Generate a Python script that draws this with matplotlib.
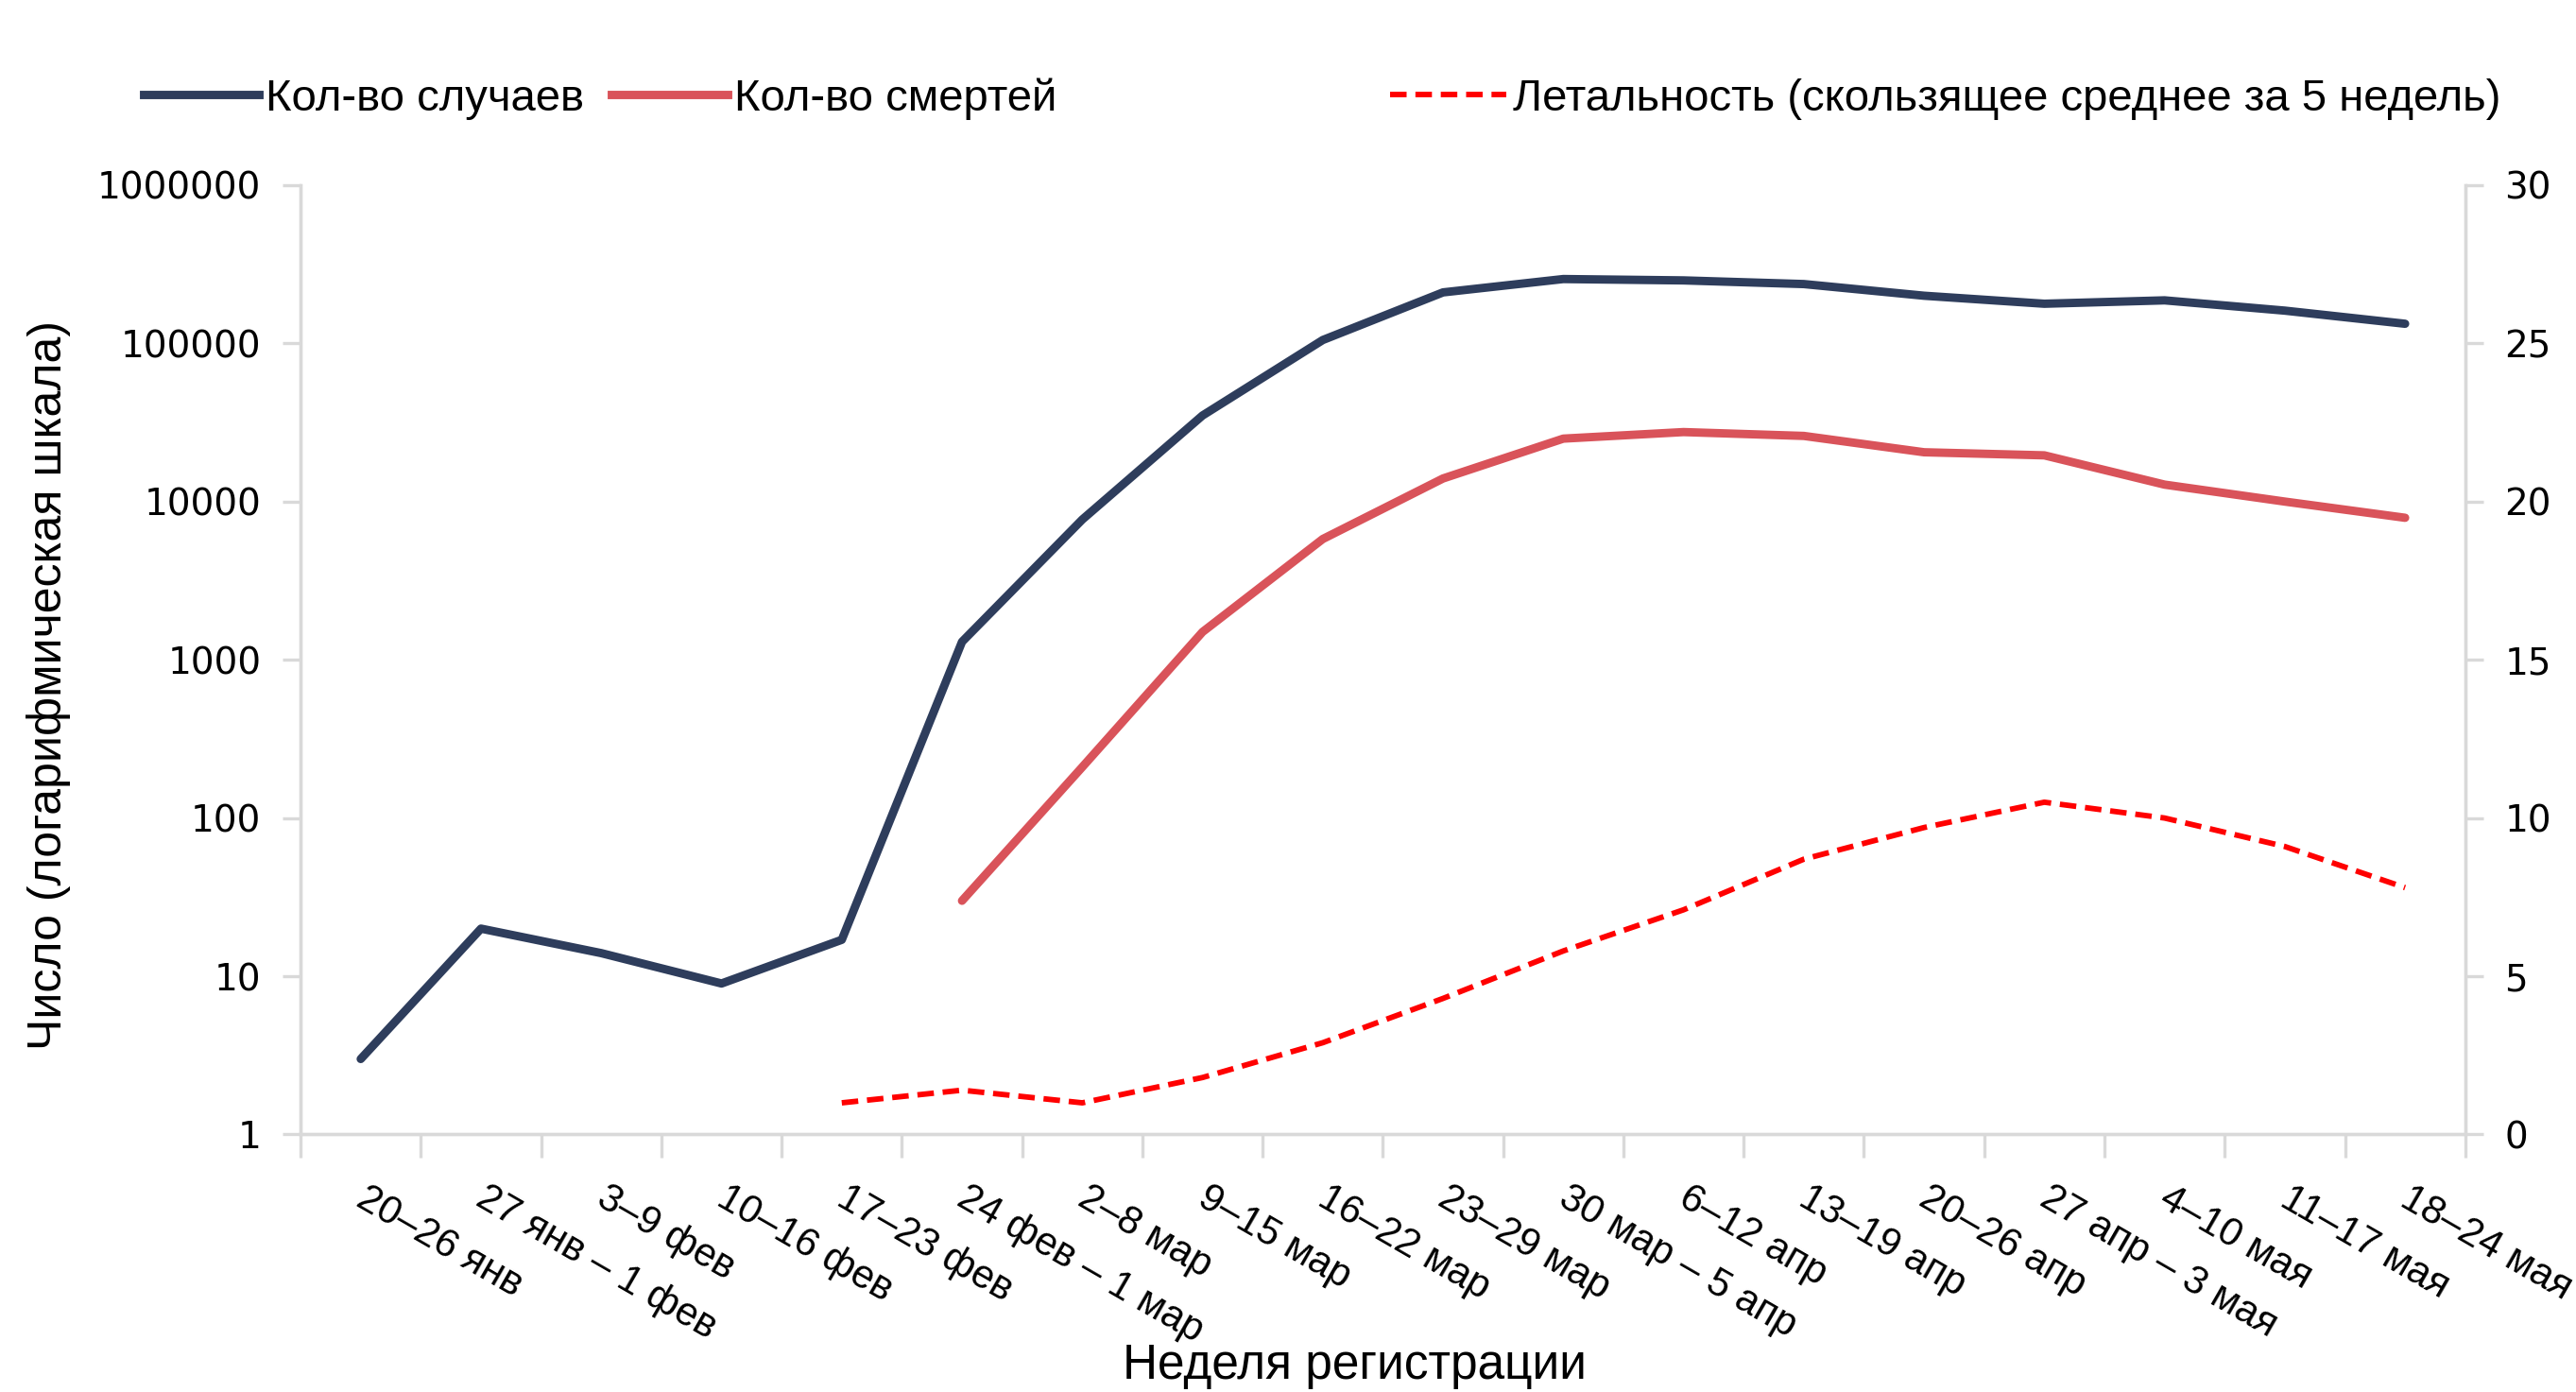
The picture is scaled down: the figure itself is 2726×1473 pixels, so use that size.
import matplotlib
matplotlib.use("Agg")
import matplotlib.pyplot as plt
from matplotlib.lines import Line2D
import numpy as np

weeks = ["20–26 янв", "27 янв – 1 фев", "3–9 фев", "10–16 фев", "17–23 фев",
         "24 фев – 1 мар", "2–8 мар", "9–15 мар", "16–22 мар", "23–29 мар",
         "30 мар – 5 апр", "6–12 апр", "13–19 апр", "20–26 апр", "27 апр – 3 мая",
         "4–10 мая", "11–17 мая", "18–24 мая"]
cases = [3, 20, 14, 9, 17, 1300, 7700, 35000, 105000, 210000, 255000, 250000,
         237000, 200000, 178000, 187000, 161000, 133000]
deaths = [np.nan] * 5 + [30, 210, 1500, 5800, 14000, 25000, 27500, 26000,
                         20500, 19600, 12800, 10000, 7900]
lethality = [np.nan] * 4 + [1.0, 1.4, 1.0, 1.8, 2.9, 4.3, 5.8, 7.1, 8.7, 9.7,
                            10.5, 10.0, 9.1, 7.8]
yticks_left = [1, 10, 100, 1000, 10000, 100000, 1000000]
yticks_right = [0, 5, 10, 15, 20, 25, 30]

narrow = ["Liberation Sans", "DejaVu Sans"]
c_cases = "#2E3D5C"
c_deaths = "#D9535A"
c_leth = "#FF0000"
gray = "#D9D9D9"

fig = plt.figure(figsize=(13.63, 7.365), dpi=200)
ax = fig.add_axes([0.1167, 0.185, 0.8403, 0.682])
ax2 = ax.twinx()

x = np.arange(len(weeks))
ax.plot(x, cases, color=c_cases, lw=3.2, solid_capstyle="round", solid_joinstyle="round")
ax.plot(x, deaths, color=c_deaths, lw=3.2, solid_capstyle="round", solid_joinstyle="round")
ax2.plot(x, lethality, color=c_leth, lw=2.1, ls=(0, (3, 1.6)))

ax.set_yscale("log")
ax.set_ylim(1, 1000000)
ax.set_yticks(yticks_left)
ax.set_yticklabels([str(v) for v in yticks_left])
ax.yaxis.set_minor_locator(matplotlib.ticker.NullLocator())
ax2.set_ylim(0, 30)
ax2.set_yticks(yticks_right)
ax.set_xlim(-0.5, len(weeks) - 0.5)

# category ticks between categories
ax.set_xticks(np.arange(-0.5, len(weeks), 1.0))
ax.set_xticklabels([])
ax.tick_params(axis="x", length=9, width=1.2, color=gray)
for i, lab in enumerate(weeks):
    ax.annotate(lab, xy=(i, 0), xycoords=("data", "axes fraction"),
                xytext=(3, -17), textcoords="offset points",
                rotation=-30, rotation_mode="anchor", ha="left", va="top",
                fontsize=15, family=narrow, color="black")

for a in (ax, ax2):
    for s in a.spines.values():
        s.set_color(gray)
        s.set_linewidth(1.2)
    a.spines["top"].set_visible(False)
ax.tick_params(axis="y", length=7, width=1.2, color=gray, labelsize=14, pad=8)
ax2.tick_params(axis="y", length=7, width=1.2, color=gray, labelsize=14, pad=8)
for lab in ax.get_yticklabels() + ax2.get_yticklabels():
    lab.set_family("DejaVu Sans")

fig.text(0.526, 0.019, "Неделя регистрации", ha="center", va="center",
         fontsize=18.5, family=narrow)
fig.text(0.019, 0.508, "Число (логарифмическая шкала)", ha="center", va="center",
         rotation=90, fontsize=18, family=narrow)
fig.text(1.003, 0.84, "%", rotation=270, ha="center", va="center", fontsize=14, family=narrow)

h1 = [Line2D([], [], color=c_cases, lw=3.2),
      Line2D([], [], color=c_deaths, lw=3.2)]
leg1 = fig.legend(h1, ["Кол-во случаев", "Кол-во смертей"], loc="center left",
                  bbox_to_anchor=(0.040, 0.929), ncol=2, frameon=False,
                  prop={"family": narrow, "size": 17}, handlelength=2.6,
                  handletextpad=0.15, columnspacing=0.6)
h2 = [Line2D([], [], color=c_leth, lw=2.1, ls=(0, (3, 1.6)))]
leg2 = fig.legend(h2, ["Летальность (скользящее среднее за 5 недель)"], loc="center left",
                  bbox_to_anchor=(0.524, 0.929), frameon=False,
                  prop={"family": narrow, "size": 17}, handlelength=2.6,
                  handletextpad=0.15)

fig.savefig("out.png", dpi=200, facecolor="white")
